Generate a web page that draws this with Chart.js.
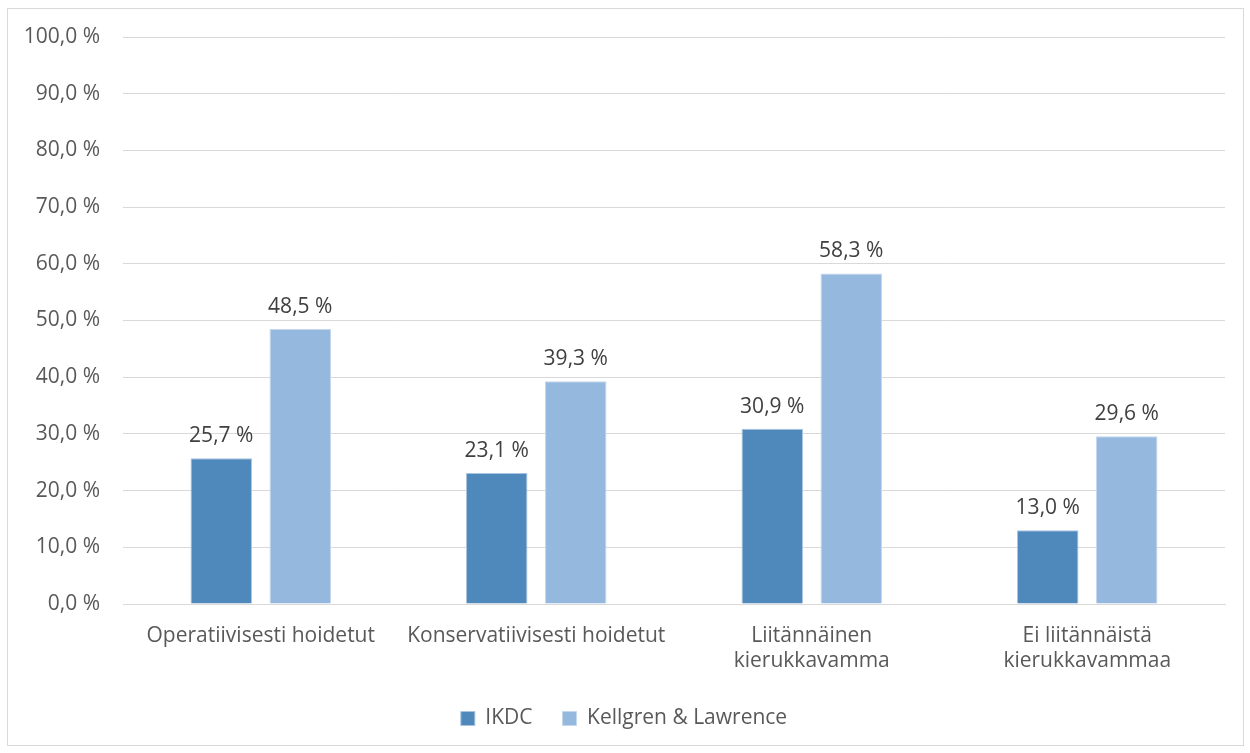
<!DOCTYPE html>
<html>
<head>
<meta charset="utf-8">
<script src="https://cdn.jsdelivr.net/npm/chart.js@4"></script>
<style>
  html, body { margin: 0; padding: 0; background: #ffffff; }
  #frame {
    position: absolute; left: 7px; top: 8px;
    width: 1235px; height: 736px;
    border: 1px solid #d9d9d9;
  }
  #wrap { position: absolute; left: 0; top: 0; width: 1250px; height: 753px; }
</style>
</head>
<body>
<div id="frame"></div>
<div id="wrap"><canvas id="bars"></canvas></div>
<script>
(function () {
    "use strict";

    // Categories and series
    var categories = [
        "Operatiivisesti hoidetut",
        "Konservatiivisesti hoidetut",
        ["Liitännäinen", "kierukkavamma"],
        ["Ei liitännäistä", "kierukkavammaa"]
    ];
    var ikdc = [25.7, 23.1, 30.9, 13.0];
    var kellgren = [48.5, 39.3, 58.3, 29.6];
    var seriesNames = ["IKDC", "Kellgren & Lawrence"];

    var fmt = function (v) {
        return v.toFixed(1).replace(".", ",") + " %";
    };

    var fontFamily = "'Open Sans', sans-serif";

    // Value labels above each bar
    var barLabels = {
        id: "barLabels",
        afterDatasetsDraw: function (chart) {
            var ctx = chart.ctx;
            ctx.save();
            ctx.font = "21px " + fontFamily;
            ctx.fillStyle = "#404040";
            ctx.textAlign = "center";
            ctx.textBaseline = "alphabetic";
            chart.data.datasets.forEach(function (ds, i) {
                chart.getDatasetMeta(i).data.forEach(function (bar, j) {
                    ctx.fillText(fmt(ds.data[j]), bar.x, bar.y - 16);
                });
            });
            ctx.restore();
        }
    };

    var ctx = document.getElementById("bars").getContext("2d");
    var chart = new Chart(ctx, {
        type: "bar",
        data: {
            labels: categories,
            datasets: [{
                    label: seriesNames[0],
                    data: ikdc,
                    backgroundColor: "#4f88bb",
                    borderColor: "#a9c4e0",
                    borderWidth: 1,
                    categoryPercentage: 0.5735,
                    barPercentage: 0.778
                },
                {
                    label: seriesNames[1],
                    data: kellgren,
                    backgroundColor: "#95b8df",
                    borderColor: "#c4d7ee",
                    borderWidth: 1,
                    categoryPercentage: 0.5735,
                    barPercentage: 0.778
                }
            ]
        },
        plugins: [barLabels],
        options: {
            responsive: true,
            maintainAspectRatio: false,
            animation: false,
            layout: {
                padding: { left: 23, right: 25, top: 37, bottom: 14 }
            },
            plugins: {
                tooltip: { enabled: false },
                legend: {
                    position: "bottom",
                    labels: {
                        color: "#595959",
                        font: { family: fontFamily, size: 21 },
                        boxWidth: 14,
                        boxHeight: 14,
                        padding: 30,
                        useBorderRadius: false
                    }
                }
            },
            scales: {
                x: {
                    grid: { display: false, drawTicks: false },
                    border: { display: true, color: "#d9d9d9", width: 1 },
                    ticks: {
                        color: "#595959",
                        font: { family: fontFamily, size: 21, lineHeight: 1.2 },
                        padding: 19,
                        maxRotation: 0,
                        autoSkip: false
                    },
                    afterFit: function (scale) { scale.height = 74; }
                },
                y: {
                    min: 0,
                    max: 100,
                    grid: { color: "#d9d9d9", drawTicks: false },
                    border: { display: false },
                    ticks: {
                        stepSize: 10,
                        color: "#595959",
                        font: { family: fontFamily, size: 21 },
                        padding: 23,
                        callback: function (v) { return fmt(v); }
                    },
                    afterFit: function (scale) { scale.width = 100; }
                }
            }
        }
    });
})();
</script>
</body>
</html>
